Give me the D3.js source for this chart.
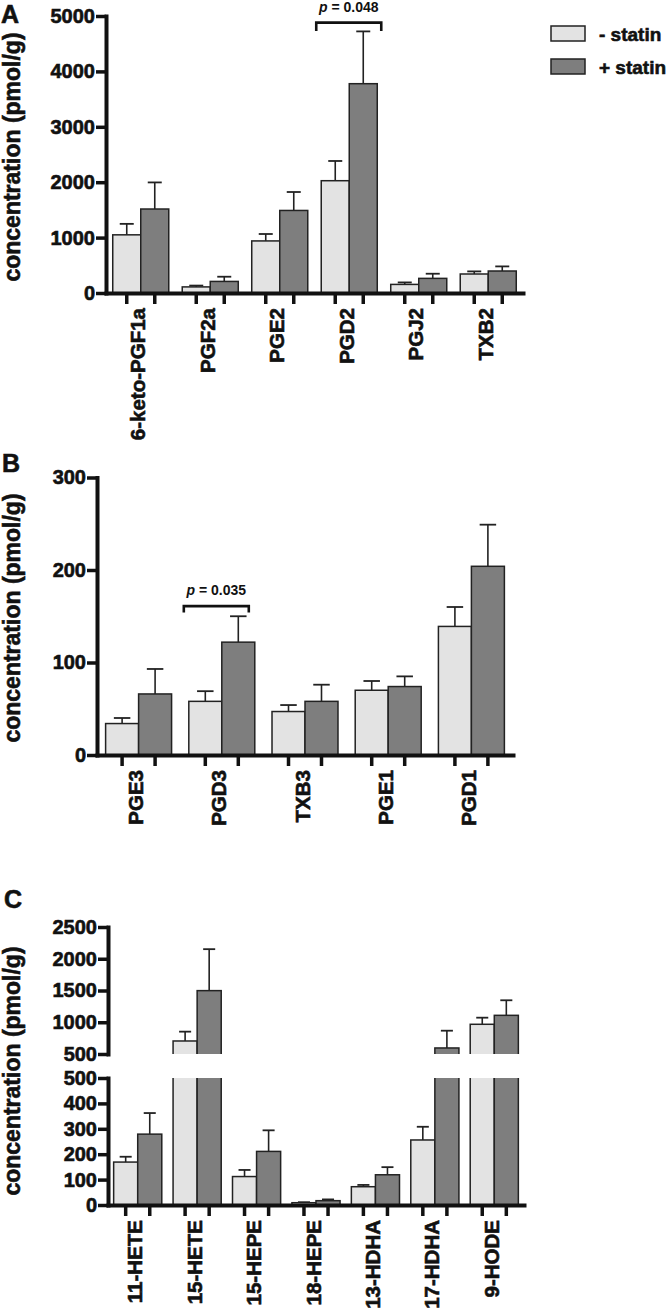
<!DOCTYPE html>
<html><head><meta charset="utf-8">
<script src="https://cdn.jsdelivr.net/npm/d3@7/dist/d3.min.js"></script>
<style>
body{margin:0;background:#fff;}
</style></head><body>
<svg id="chart" width="667" height="1310"></svg>
<script>
// ---------- data ----------
const seriesNames = ["- statin", "+ statin"];

const catsA = ["6-keto-PGF1a", "PGF2a", "PGE2", "PGD2", "PGJ2", "TXB2"];
const minusA = [1050, 110, 940, 2027, 155, 343];
const minusErrA = [198, 24, 125, 356, 36, 47];
const plusA = [1516, 209, 1490, 3778, 264, 397];
const plusErrA = [480, 85, 333, 944, 84, 83];
const ticksA = [0, 1000, 2000, 3000, 4000, 5000];

const catsB = ["PGE3", "PGD3", "TXB3", "PGE1", "PGD1"];
const minusB = [34, 58, 47, 70, 139];
const minusErrB = [6, 11, 7, 10, 21];
const plusB = [66, 122, 58, 74, 204];
const plusErrB = [27, 28, 18, 11, 45];
const ticksB = [0, 100, 200, 300];

const catsC = ["11-HETE", "15-HETE", "15-HEPE", "18-HEPE", "13-HDHA", "17-HDHA", "9-HODE"];
const minusC = [169, 705, 112, 9, 72, 256, 968];
const minusErrC = [21, 147, 26, 2, 7, 52, 104];
const plusC = [279, 1498, 211, 17, 119, 595, 1109];
const plusErrC = [83, 653, 83, 5, 30, 272, 237];
const ticksCLow = [0, 100, 200, 300, 400, 500];
const ticksCHigh = [500, 1000, 1500, 2000, 2500];

const pTextA = "0.048", pCatA = "PGD2", pLevelA = 4880, pLegA = 4730;
const pTextB = "0.035", pCatB = "PGD3", pLevelB = 161, pLegB = 154;

// ---------- style ----------
const FONT = '"Liberation Sans", Arial, Helvetica, sans-serif';
const fills = ["#e3e3e3", "#7e7e7e"];
const INK = "#111";
const svg = d3.select("#chart");

function heavy(sel, size) {
  return sel.attr("font-family", FONT).attr("font-weight", "bold").attr("font-size", size)
    .attr("fill", INK).attr("stroke", INK).attr("stroke-width", 0.6).attr("paint-order", "stroke");
}

function drawPanel(cfg) {
  const g = svg.append("g");
  const xg = d3.scaleBand().domain(cfg.cats).range([cfg.x0, cfg.x1])
    .paddingInner(cfg.pad).paddingOuter(cfg.pad / 2);
  const xs = d3.scaleBand().domain([0, 1]).range([0, xg.bandwidth()]);
  const rows = cfg.cats.flatMap((c, i) => [
    {c, s: 0, v: cfg.minus[i], e: cfg.minusErr[i]},
    {c, s: 1, v: cfg.plus[i], e: cfg.plusErr[i]}
  ]);
  const bw = xs.bandwidth();

  cfg.segments.forEach((seg, k) => {
    const y = d3.scaleLinear().domain(seg.domain).range(seg.range);
    seg.y = y;
    const id = cfg.id + "clip" + k;
    g.append("clipPath").attr("id", id).append("rect")
      .attr("x", cfg.x0).attr("y", seg.clipTop)
      .attr("width", cfg.x1 - cfg.x0 + 20).attr("height", seg.range[0] - seg.clipTop);
    const d0 = seg.domain[0], d1 = seg.domain[1], span = d1 - d0;
    const bottom = seg.broken ? seg.range[0] + 10 : seg.range[0];
    const gg = g.append("g").attr("clip-path", `url(#${id})`);
    const vis = rows.filter(r => r.v > d0);
    // error bars
    const eb = gg.selectAll("g.eb").data(rows.filter(r => r.v + r.e > d0)).join("g");
    eb.append("line")
      .attr("x1", r => xg(r.c) + xs(r.s) + bw / 2).attr("x2", r => xg(r.c) + xs(r.s) + bw / 2)
      .attr("y1", r => y(r.v)).attr("y2", r => y(r.v + r.e))
      .attr("stroke", "#222").attr("stroke-width", 1.6);
    eb.append("line")
      .attr("x1", r => xg(r.c) + xs(r.s) + bw / 4).attr("x2", r => xg(r.c) + xs(r.s) + bw * 3 / 4)
      .attr("y1", r => y(r.v + r.e)).attr("y2", r => y(r.v + r.e))
      .attr("stroke", "#222").attr("stroke-width", 1.8);
    // bars
    gg.selectAll("rect.bar").data(vis).join("rect")
      .attr("x", r => xg(r.c) + xs(r.s))
      .attr("width", bw)
      .attr("y", r => y(Math.min(r.v, d1 + span * 0.05)))
      .attr("height", r => bottom - y(Math.min(r.v, d1 + span * 0.05)))
      .attr("fill", r => fills[r.s])
      .attr("stroke", "#222").attr("stroke-width", 1.5);
    // y axis
    const ax = g.append("g").attr("transform", `translate(${cfg.x0},0)`)
      .call(d3.axisLeft(y).tickValues(seg.ticks).tickSize(10).tickPadding(1)
        .tickSizeOuter(0).tickFormat(d3.format("d")));
    ax.select(".domain").attr("stroke", INK).attr("stroke-width", 4).attr("stroke-linecap", "square");
    ax.selectAll(".tick line").attr("stroke", INK).attr("stroke-width", 3.5);
    heavy(ax.selectAll(".tick text"), 20);
  });

  const y0 = cfg.segments[0].range[0];
  // x axis
  const xa = g.append("g").attr("transform", `translate(0,${y0})`)
    .call(d3.axisBottom(xg).tickValues([]).tickSizeOuter(0));
  xa.select(".domain").attr("stroke", INK).attr("stroke-width", 4).attr("stroke-linecap", "square");
  g.selectAll("line.xt").data(rows).join("line")
    .attr("x1", r => xg(r.c) + xs(r.s) + bw / 2).attr("x2", r => xg(r.c) + xs(r.s) + bw / 2)
    .attr("y1", y0).attr("y2", y0 + 11)
    .attr("stroke", INK).attr("stroke-width", 3.5);
  heavy(g.selectAll("text.xl").data(cfg.cats).join("text")
    .attr("transform", c => `translate(${xg(c) + xg.bandwidth() / 2 - 2},${y0 + 15}) rotate(-90)`)
    .attr("text-anchor", "end").attr("dy", "0.32em"), 20.5)
    .text(c => c);

  // y title
  heavy(g.append("text")
    .attr("transform", `translate(20,${cfg.titleY}) rotate(-90)`)
    .attr("text-anchor", "middle"), 23)
    .text("concentration (pmol/g)");
  // panel letter
  heavy(g.append("text").attr("x", cfg.letterX).attr("y", cfg.letterY), 25)
    .text(cfg.letter);

  // significance bracket
  if (cfg.p) {
    const y = cfg.segments[0].y;
    const bx0 = xg(cfg.p.cat) + cfg.p.dx0, bx1 = xg(cfg.p.cat) + xg.bandwidth() + cfg.p.dx1;
    const yl = y(cfg.p.level), yg = y(cfg.p.leg);
    g.append("path")
      .attr("d", `M${bx0},${yg}V${yl}H${bx1}V${yg}`)
      .attr("fill", "none").attr("stroke", INK).attr("stroke-width", 2.6);
    const t = g.append("text").attr("x", (bx0 + bx1) / 2).attr("y", yl - 11)
      .attr("text-anchor", "middle")
      .attr("font-family", FONT).attr("font-weight", "bold").attr("font-size", 14).attr("fill", INK);
    t.append("tspan").attr("font-style", "italic").text("p");
    t.append("tspan").text(" = " + cfg.p.text);
  }
  return {xg, xs};
}

drawPanel({
  id: "A", letter: "A", letterX: 1, letterY: 23, titleY: 157,
  cats: catsA, minus: minusA, minusErr: minusErrA, plus: plusA, plusErr: plusErrA,
  x0: 106, x1: 523, pad: 0.194,
  segments: [{domain: [0, 5000], range: [293, 16], ticks: ticksA, clipTop: 0}],
  p: {cat: pCatA, level: pLevelA, leg: pLegA, text: pTextA, dx0: -5, dx1: 4}
});

drawPanel({
  id: "B", letter: "B", letterX: 2, letterY: 472, titleY: 618,
  cats: catsB, minus: minusB, minusErr: minusErrB, plus: plusB, plusErr: plusErrB,
  x0: 97, x1: 513, pad: 0.207,
  segments: [{domain: [0, 300], range: [755, 477.5], ticks: ticksB, clipTop: 440}],
  p: {cat: pCatB, level: pLevelB, leg: pLegB, text: pTextB, dx0: -5, dx1: -6}
});

drawPanel({
  id: "C", letter: "C", letterX: 4, letterY: 908, titleY: 1071,
  cats: catsC, minus: minusC, minusErr: minusErrC, plus: plusC, plusErr: plusErrC,
  x0: 108, x1: 524, pad: 0.19,
  segments: [
    {domain: [0, 500], range: [1205, 1078], ticks: ticksCLow, clipTop: 1078},
    {domain: [500, 2500], range: [1054, 927], ticks: ticksCHigh, clipTop: 880, broken: true}
  ]
});

// legend
const leg = svg.append("g").selectAll("g").data(seriesNames).join("g")
  .attr("transform", (d, i) => `translate(551,${26 + i * 33})`);
leg.append("rect").attr("width", 34).attr("height", 15)
  .attr("fill", (d, i) => fills[i]).attr("stroke", "#222").attr("stroke-width", 1.5);
heavy(leg.append("text").attr("x", 48).attr("y", 15), 19)
  .text(d => d);
</script>
</body></html>
